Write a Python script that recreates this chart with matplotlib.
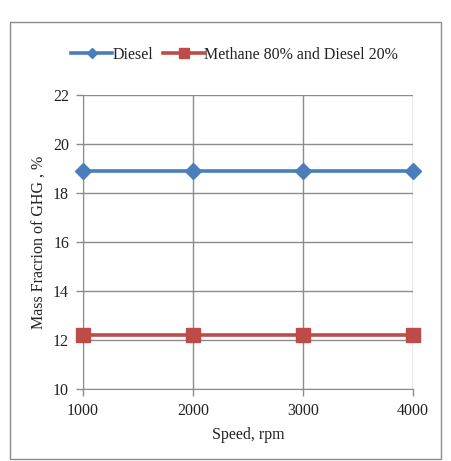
import matplotlib
matplotlib.use("Agg")
import matplotlib.pyplot as plt
from matplotlib.patches import Rectangle

speed = [1000, 2000, 3000, 4000]
diesel = [18.9, 18.9, 18.9, 18.9]
methane = [12.2, 12.2, 12.2, 12.2]
yticks = [10, 12, 14, 16, 18, 20, 22]

plt.rcParams['font.family'] = ['Liberation Serif', 'DejaVu Serif']

fig = plt.figure(figsize=(4.51, 4.61), dpi=100)
fig.patches.append(Rectangle((10/451, 2/461), 431/451, 437/461, transform=fig.transFigure,
                             fill=False, edgecolor='#8c8c8c', linewidth=1.0))
ax = fig.add_axes([83/451, 1-389/461, 330/451, 294/461])

ax.plot(speed, diesel, color='#4A7EBB', lw=2.6, marker='D', ms=8, label='Diesel', zorder=3, clip_on=False)
ax.plot(speed, methane, color='#BE4B48', lw=2.6, marker='s', ms=10, label='Methane 80% and Diesel 20%', zorder=3, clip_on=False)

ax.set_xlim(1000, 4000)
ax.set_ylim(10, 22)
ax.set_xticks(speed)
ax.set_yticks(yticks)
ax.grid(True, color='#8c8c8c', lw=1.0)
ax.set_axisbelow(True)
for s in ['top', 'right']:
    ax.spines[s].set_visible(False)
for s in ['left', 'bottom']:
    ax.spines[s].set_color('#8c8c8c')
ax.tick_params(axis='both', colors='#8c8c8c', labelcolor='#222222', labelsize=11.5, length=5, width=1)
ax.tick_params(axis='y', pad=5)
ax.tick_params(axis='x', pad=5)
ax.set_xlabel('Speed, rpm', fontsize=11.5, color='#222222', labelpad=6)
ax.set_ylabel('Mass Fracrion of GHG , %', fontsize=11.5, color='#222222', labelpad=4)

fig.legend(loc='center', bbox_to_anchor=(0.52, 1-55/461), ncol=2, frameon=False, fontsize=11.5,
           handlelength=2.6, handletextpad=0.0, columnspacing=0.6, labelcolor='#222222',
           markerscale=0.7)

fig.savefig('out.png', dpi=100)
